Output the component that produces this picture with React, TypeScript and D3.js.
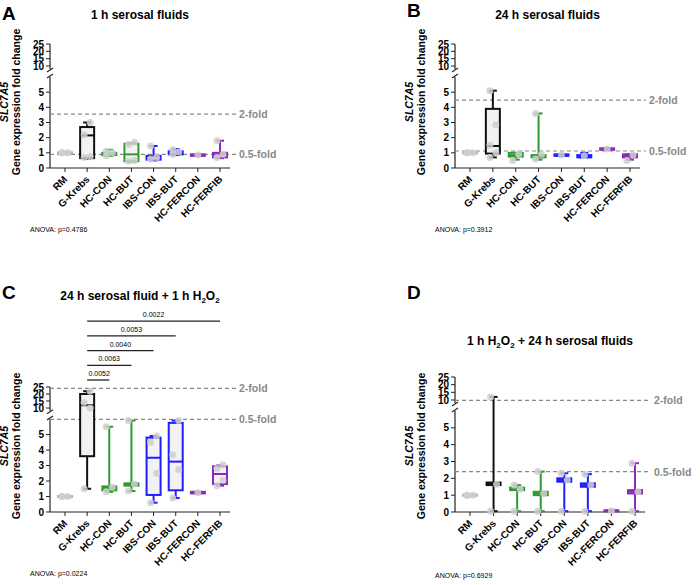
import * as d3 from 'd3'

const groups = ['RM', 'G-Krebs', 'HC-CON', 'HC-BUT', 'IBS-CON', 'IBS-BUT', 'HC-FERCON', 'HC-FERFIB']
const groupColors = ['#b0b0b0', '#111111', '#2e9a2e', '#2e9a2e', '#1f1fff', '#1f1fff', '#8a2bb8', '#8a2bb8']

// [min, q1, median, q3, max]
const statsA = [
  [0.95, 0.97, 1, 1.03, 1.05], [0.6, 0.65, 2.15, 2.7, 3.0], [0.8, 0.85, 0.95, 1.0, 1.2], [0.4, 0.45, 0.9, 1.6, 1.65],
  [0.5, 0.55, 0.75, 0.8, 1.45], [0.85, 0.9, 1.0, 1.1, 1.25], [0.8, 0.8, 0.85, 0.9, 0.9], [0.65, 0.7, 0.9, 1.0, 1.8],
]
const pointsA = [[1, 1, 1], [0.7, 0.75, 2.2, 3.0], [0.8, 1.0, 1.1], [0.45, 0.5, 1.55, 1.7], [0.6, 0.7, 1.45], [0.9, 1.05, 1.2], [0.85], [0.7, 0.9, 1.8]]

const statsB = [
  [0.95, 0.97, 1, 1.03, 1.05], [0.7, 0.95, 1.45, 3.9, 5.1], [0.55, 0.75, 0.85, 1.0, 1.0], [0.55, 0.7, 0.8, 0.85, 3.6],
  [0.8, 0.8, 0.85, 0.9, 0.9], [0.7, 0.7, 0.75, 0.85, 1.0], [1.2, 1.2, 1.25, 1.3, 1.3], [0.55, 0.7, 0.8, 0.9, 0.9],
]
const pointsB = [[1, 1, 1], [0.7, 1.0, 1.5, 2.85, 5.1], [0.5, 0.9], [0.6, 0.9, 3.6], [0.85], [0.8], [1.25], [0.5, 0.85]]

const statsC = [
  [0.95, 0.97, 1, 1.03, 1.05], [1.5, 3.6, 12, 20, 22], [1.3, 1.4, 1.55, 1.65, 5.5], [1.35, 1.7, 1.75, 1.85, 5.9],
  [0.6, 1.1, 3.5, 4.8, 4.9], [0.9, 1.4, 3.25, 5.75, 5.9], [1.2, 1.2, 1.25, 1.3, 1.3], [1.7, 1.8, 2.45, 2.95, 3.0],
]
const pointsC = [[1, 1, 1], [1.5, 10, 14, 22], [1.3, 1.6, 5.5], [1.35, 1.8, 5.9], [0.6, 2.5, 4.5, 4.9], [0.9, 2.75, 3.7, 5.9], [1.25], [1.7, 2.05, 2.8, 3.05]]

const statsD = [
  [0.95, 0.97, 1, 1.03, 1.05], [0.05, 1.6, 1.7, 1.75, 12], [0.05, 1.3, 1.35, 1.45, 1.6], [0.05, 1.0, 1.1, 1.2, 2.4],
  [0.05, 1.8, 1.9, 2.0, 2.3], [0.05, 1.5, 1.6, 1.7, 2.25], [0.05, 0.05, 0.08, 0.1, 0.1], [0.05, 1.1, 1.2, 1.3, 2.9],
]
const pointsD = [[1, 1, 1], [0.05, 1.65, 12], [0.05, 1.35, 1.6], [0.05, 1.1, 2.4], [0.05, 1.9, 2.3], [0.05, 1.6, 2.25], [0.08], [0.05, 1.2, 2.9]]

const lowerTicks = [0, 1, 2, 3, 4, 5]
const upperTicks = [10, 15, 20, 25]

const sigC = [
  { to: 'HC-CON', p: '0.0052' }, { to: 'HC-BUT', p: '0.0063' }, { to: 'IBS-CON', p: '0.0040' },
  { to: 'IBS-BUT', p: '0.0053' }, { to: 'HC-FERFIB', p: '0.0022' },
]

interface PanelProps {
  letter: string
  title: any
  left: number
  right: number
  bottom: number
  lowTop: number
  up10: number
  up25: number
  stats: number[][]
  points: number[][]
  fold2: number
  fold05: number
  anova: string
  titleY: number
  letterY: number
  anovaY: number
  sig?: { to: string, p: string }[]
}

function Panel(p: PanelProps) {
  const x = d3.scalePoint().domain(groups).range([p.left + 15, p.right - 10])
  const yLow = d3.scaleLinear().domain([0, 6]).range([p.bottom, p.lowTop])
  const yUp = d3.scaleLinear().domain([10, 25]).range([p.up10, p.up25])
  const y = (v: number) => (v <= 6 ? yLow(v) : v >= 8 ? yUp(v) : yLow(6) + (yUp(8) - yLow(6)) * (v - 6) / 2)
  const up8 = yUp(8)
  const mid = p.left + (p.right - p.left) / 2
  const bw = 14
  const cap = 8
  return (
    <g fontFamily="Arial, Liberation Sans, sans-serif">
      <text x={p.left - 48} y={p.letterY} fontSize={19} fontWeight="bold">{p.letter}</text>
      <text x={mid} y={p.titleY} fontSize={12} fontWeight="bold" textAnchor="middle">{p.title}</text>
      {/* axis */}
      <line x1={p.left} x2={p.left} y1={yUp(25)} y2={up8} stroke="#222" strokeWidth={1.2} />
      <line x1={p.left} x2={p.left} y1={yLow(6)} y2={p.bottom} stroke="#222" strokeWidth={1.2} />
      <line x1={p.left - 3} x2={p.left + 3} y1={up8 + 3} y2={up8 - 1} stroke="#222" strokeWidth={1.2} />
      <line x1={p.left - 3} x2={p.left + 3} y1={yLow(6) + 1} y2={yLow(6) - 3} stroke="#222" strokeWidth={1.2} />
      <line x1={p.left} x2={p.right} y1={p.bottom} y2={p.bottom} stroke="#222" strokeWidth={1.2} />
      {lowerTicks.map((t) => (
        <g key={'l' + t}>
          <line x1={p.left - 4} x2={p.left} y1={yLow(t)} y2={yLow(t)} stroke="#222" />
          <text x={p.left - 6} y={yLow(t) + 3.5} fontSize={10} fontWeight="bold" textAnchor="end">{t}</text>
        </g>
      ))}
      {upperTicks.map((t) => (
        <g key={'u' + t}>
          <line x1={p.left - 4} x2={p.left} y1={yUp(t)} y2={yUp(t)} stroke="#222" />
          <text x={p.left - 6} y={yUp(t) + 3.5} fontSize={10} fontWeight="bold" textAnchor="end">{t}</text>
        </g>
      ))}
      <g transform={`translate(${p.left - 42},${p.bottom - 66}) rotate(-90)`} fontSize={10.5} fontWeight="bold" textAnchor="middle">
        <text y={0} fontStyle="italic">SLC7A5</text>
        <text y={12}>Gene expression fold change</text>
      </g>
      {groups.map((g) => (
        <g key={g} transform={`translate(${x(g)},${p.bottom})`}>
          <line y1={0} y2={4} stroke="#222" />
          <text transform="translate(3,12) rotate(-45)" fontSize={10} fontWeight="bold" textAnchor="end">{g}</text>
        </g>
      ))}
      {/* fold lines */}
      {[{ v: p.fold2, l: '2-fold' }, { v: p.fold05, l: '0.5-fold' }].map((f) => (
        <g key={f.l}>
          <line x1={p.left} x2={p.right + 6} y1={y(f.v)} y2={y(f.v)} stroke="#888" strokeDasharray="4,3" strokeWidth={1.2} />
          <text x={p.right + 9} y={y(f.v) + 4} fontSize={10.5} fontWeight="bold" fill="#888">{f.l}</text>
        </g>
      ))}
      {/* boxes */}
      {groups.map((g, i) => {
        const [mn, q1, md, q3, mx] = p.stats[i]
        const cx = x(g) as number
        const c = groupColors[i]
        return (
          <g key={'b' + g}>
            <line x1={cx} x2={cx} y1={y(mn)} y2={y(mx)} stroke={c} strokeWidth={2} />
            <line x1={cx - cap / 2} x2={cx + cap / 2} y1={y(mn)} y2={y(mn)} stroke={c} strokeWidth={2} />
            <line x1={cx - cap / 2} x2={cx + cap / 2} y1={y(mx)} y2={y(mx)} stroke={c} strokeWidth={2} />
            <rect x={cx - bw / 2} y={y(q3)} width={bw} height={Math.max(y(q1) - y(q3), 1)} fill={i === 0 ? c : '#f2f2f2'} stroke={c} strokeWidth={2} />
            <line x1={cx - bw / 2} x2={cx + bw / 2} y1={y(md)} y2={y(md)} stroke={c} strokeWidth={2} />
            {p.points[i].map((v, j) => (
              <circle key={j} cx={cx + (j % 2 ? 3 : -3) * (p.points[i].length > 1 ? 1 : 0)} cy={y(v)} r={3.5} fill="#cfcfcf" opacity={0.85} />
            ))}
          </g>
        )
      })}
      <text x={p.left - 20} y={p.anovaY} fontSize={7}>{p.anova}</text>
      {p.sig && p.sig.map((s, i) => {
        const yy = 380 - i * 14.7
        const x1 = x('G-Krebs') as number
        const x2 = x(s.to) as number
        return (
          <g key={s.p}>
            <line x1={x1} x2={x2} y1={yy} y2={yy} stroke="#222" strokeWidth={1.3} />
            <text x={i === 0 ? x1 + 12 : (x1 + x2) / 2} y={yy - 4} fontSize={7} textAnchor="middle">{s.p}</text>
          </g>
        )
      })}
    </g>
  )
}

const h2o2 = (pre: string, post: string) => (
  <>
    {pre}H<tspan fontSize={8} dy={3}>2</tspan><tspan dy={-3}>O</tspan><tspan fontSize={8} dy={3}>2</tspan><tspan dy={-3}>{post}</tspan>
  </>
)

export default function App() {
  return (
    <svg width={700} height={585} style={{ position: 'absolute', left: 0, top: 0 }}>
      <rect width={700} height={585} fill="#fff" />
      <Panel letter="A" title="1 h serosal fluids" left={50} right={230} bottom={168} lowTop={77} up10={66} up25={44}
        stats={statsA} points={pointsA} fold2={3.55} fold05={0.9} anova="ANOVA: p=0.4786" titleY={19} letterY={20} anovaY={232} />
      <Panel letter="B" title="24 h serosal fluids" left={455} right={640} bottom={168} lowTop={77} up10={66} up25={44}
        stats={statsB} points={pointsB} fold2={4.48} fold05={1.12} anova="ANOVA: p=0.3912" titleY={19} letterY={17} anovaY={232} />
      <Panel letter="C" title={h2o2('24 h serosal fluid + 1 h ', '')} left={50} right={230} bottom={512} lowTop={419} up10={408} up25={387}
        stats={statsC} points={pointsC} fold2={24} fold05={5.97} anova="ANOVA: p=0.0224" titleY={300} letterY={299} anovaY={576}
        sig={sigC} />
      <Panel letter="D" title={h2o2('1 h ', ' + 24 h serosal fluids')} left={455} right={645} bottom={512} lowTop={411} up10={400} up25={377}
        stats={statsD} points={pointsD} fold2={9.8} fold05={2.4} anova="ANOVA: p=0.6929" titleY={345} letterY={299} anovaY={578} />
    </svg>
  )
}
